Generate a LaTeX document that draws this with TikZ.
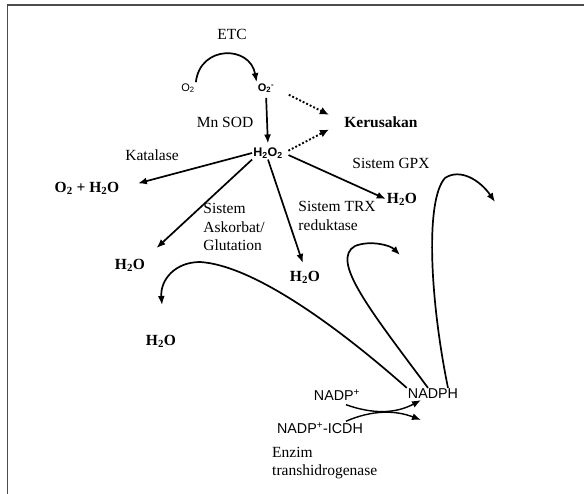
\documentclass[tikz,border=0pt]{standalone}
\usepackage{fontspec}
\setmainfont{Liberation Serif}
\newfontfamily\sansfont{Liberation Sans}
\usetikzlibrary{arrows,arrows.meta}

\begin{document}
\begin{tikzpicture}[x=1pt,y=-1pt,
	lbl/.style={font=\fontsize{15.5}{18.5}\selectfont, inner sep=1pt},
	chem/.style={font=\fontsize{15.5}{18.5}\selectfont\bfseries, inner sep=1pt},
	sans/.style={font=\sansfont\fontsize{14.3}{16}\selectfont, inner sep=1pt},
	ros/.style={font=\sansfont\fontsize{12.5}{14}\selectfont\bfseries, inner sep=1pt},
	rxn/.style={-{Latex[length=9pt,width=7pt]}, line width=1.7pt},
	dots/.style={-{Latex[length=9pt,width=8pt]}, line width=1.9pt, dotted}]
	\useasboundingbox (0,0) rectangle (584,494);
	\draw [gray!60!black, line width=1.5pt] (7.5,494) -- (7.5,5) -- (584,5);

	% superoxide and peroxide
	\node [lbl] (etc) at (232,34) {ETC};
	\node [ros, font=\sansfont\fontsize{11}{12}\selectfont] (o2) at (188,88) {O\textsubscript{2}};
	\node [ros, font=\sansfont\fontsize{11}{12}\selectfont\bfseries] (o2m) at (266,88) {O\textsubscript{2}\textsuperscript{-}};
	\node [lbl] (sod) at (225,122) {Mn SOD};
	\node [ros] (h2o2) at (268,153) {H\textsubscript{2}O\textsubscript{2}};
	\node [chem] (damage) at (381,122) {Kerusakan};

	% detoxification
	\node [lbl] (kat) at (152,155) {Katalase};
	\node [chem] (o2h2o) at (87,188) {O\textsubscript{2} + H\textsubscript{2}O};
	\node [lbl, align=left] (asc) at (234,227) {Sistem\\Askorbat/\\Glutation};
	\node [chem] (w2) at (130,265) {H\textsubscript{2}O};
	\node [lbl] (gpx) at (391,163) {Sistem GPX};
	\node [chem] (w4) at (402,199) {H\textsubscript{2}O};
	\node [lbl, align=left] (trx) at (337,216) {Sistem TRX\\reduktase};
	\node [chem] (w3) at (305,277) {H\textsubscript{2}O};
	\node [chem] (w5) at (161,341) {H\textsubscript{2}O};

	% NADPH supply
	\node [sans] (nadph) at (433,394) {NADPH};
	\node [sans] (nadp) at (337,395) {NADP\textsuperscript{+}};
	\node [sans] (icdh) at (320,428) {NADP\textsuperscript{+}-ICDH};
	\node [lbl, align=left, anchor=west] (trans) at (271,463) {Enzim\\transhidrogenase};

	\coordinate (tipA) at (162,305);
	\coordinate (tipB) at (400,255);
	\coordinate (tipC) at (495,202);
	\coordinate (tipD) at (421,420);

	\draw [rxn] (o2.north east) .. controls (200,45) and (250,45) .. (o2m.north west);
	\draw [rxn, shorten <=4pt, shorten >=3pt] (o2m.south) -- (h2o2.north);
	\draw [dots, shorten <=15pt, shorten >=16pt] (o2m.east) -- (damage.west);
	\draw [dots, shorten <=5pt, shorten >=16pt] (h2o2.east) -- (damage.west);

	\draw [rxn, shorten >=18pt] (h2o2.west) -- (o2h2o.east);
	\draw [rxn, shorten >=14pt] (h2o2.south west) -- (w2.north east);
	\draw [rxn, shorten >=7pt] (h2o2.south) -- (w3.north);
	\draw [rxn, shorten <=5pt] (h2o2.east) -- (w4.west);

	\draw [rxn] (nadph.north west) .. controls (330,320) and (250,265) .. (200,262)
		.. controls (175,262) and (160,280) .. (tipA);
	\draw [rxn] ([xshift=-5pt]nadph.north) .. controls (370,310) and (330,260) .. (355,246)
		.. controls (370,240) and (390,245) .. (tipB);
	\draw [rxn] ([xshift=15pt]nadph.north) .. controls (430,300) and (425,200) .. (445,178)
		.. controls (460,168) and (480,180) .. (tipC);

	\draw [rxn, line width=1.4pt] ([xshift=9pt,yshift=-3pt]nadp.south) .. controls (372,414) and (395,414) .. ([xshift=-12pt]nadph.south);
	\draw [rxn, line width=1.4pt] ([xshift=26pt]icdh.north) .. controls (372,410) and (395,410) .. (tipD);
\end{tikzpicture}
\end{document}
